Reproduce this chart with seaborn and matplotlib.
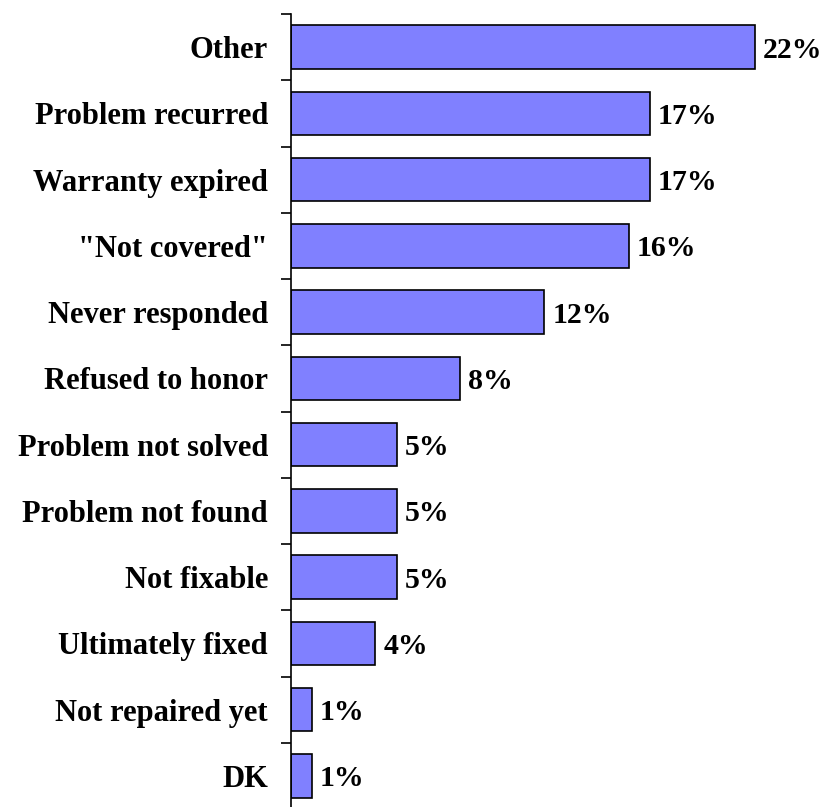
import matplotlib
matplotlib.use("Agg")
import matplotlib.pyplot as plt
import seaborn as sns
import pandas as pd
import numpy as np

categories = ["Other", "Problem recurred", "Warranty expired", '"Not covered"',
              "Never responded", "Refused to honor", "Problem not solved",
              "Problem not found", "Not fixable", "Ultimately fixed",
              "Not repaired yet", "DK"]
values = [22, 17, 17, 16, 12, 8, 5, 5, 5, 4, 1, 1]

df = pd.DataFrame({"cat": categories, "val": values})

sns.set_style("white")
plt.rcParams["font.family"] = ["Liberation Serif", "DejaVu Serif"]
plt.rcParams["font.weight"] = "bold"

fig = plt.figure(figsize=(8.25, 8.07), dpi=100)
ax = fig.add_axes([291/825, -2/807, 1 - 291/825, 795/807])

sns.barplot(data=df, x="val", y="cat", orient="h", color="#8080FF",
            saturation=1, width=0.66, edgecolor="black", linewidth=1.2, ax=ax)

ax.set_xlim(0, 534/21.1)
ax.set_ylim(len(categories) - 0.5, -0.5)

for i, v in enumerate(values):
    ax.text(v + 0.38, i, f"{v}%", va="center_baseline", ha="left", fontsize=21.5,
            fontweight="bold", color="black")

ax.set_xlabel("")
ax.set_ylabel("")
ax.set_xticks([])
ax.set_yticks(np.arange(len(categories)))
ax.set_yticklabels(categories, fontsize=22, fontweight="bold", color="black",
                   va="center_baseline")
ax.set_yticks(np.arange(len(categories) + 1) - 0.5, minor=True)
ax.tick_params(axis="y", which="major", length=0, pad=16.5)
ax.tick_params(axis="y", which="minor", length=7, width=1.2, color="black", left=True)

for s in ["top", "right", "bottom"]:
    ax.spines[s].set_visible(False)
ax.spines["left"].set_color("black")
ax.spines["left"].set_linewidth(1.2)

fig.savefig("out.png", dpi=100)
